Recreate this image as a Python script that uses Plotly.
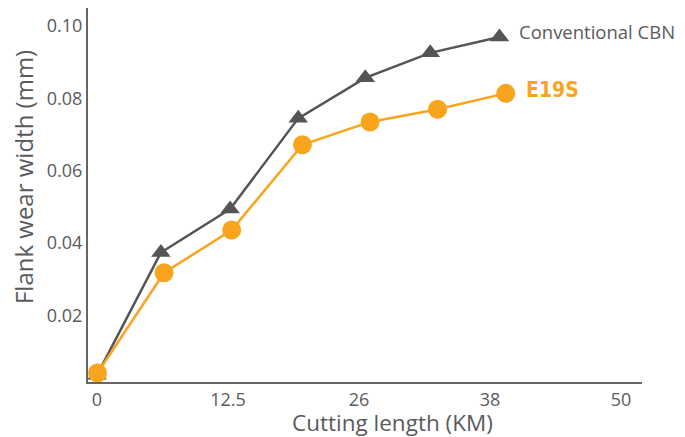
import plotly.graph_objects as go

# Data (x in evenly spaced axis units; tick labels below are as printed)
x_conv = [0, 6.1, 12.7, 19.2, 25.6, 31.8, 38.4]
y_conv = [0.0035, 0.0374, 0.0494, 0.0745, 0.0857, 0.0926, 0.0970]
x_e19s = [0.05, 6.4, 12.85, 19.6, 26.05, 32.5, 39.0]
y_e19s = [0.0041, 0.0318, 0.0436, 0.0672, 0.0735, 0.0770, 0.0814]

x_tickvals = [0, 12.5, 25, 37.5, 50]
x_ticktext = ["0", "12.5", "26", "38", "50"]
y_tickvals = [0.02, 0.04, 0.06, 0.08, 0.10]
y_ticktext = ["0.02", "0.04", "0.06", "0.08", "0.10"]

x_title = "Cutting length (KM)"
y_title = "Flank wear width (mm)"

GRAY = "#555555"
TEXT = "#5a5a5c"
ORANGE = "#F8A51D"
FONT = "Open Sans, Lato, sans-serif"

fig = go.Figure()
fig.add_trace(go.Scatter(
    x=x_conv, y=y_conv, mode="lines+markers",
    line=dict(color=GRAY, width=2.5),
    marker=dict(symbol="triangle-up", size=17, color=GRAY),
    showlegend=False, cliponaxis=False))
fig.add_trace(go.Scatter(
    x=x_e19s, y=y_e19s, mode="lines+markers",
    line=dict(color=ORANGE, width=2.5),
    marker=dict(symbol="circle", size=19, color=ORANGE),
    showlegend=False, cliponaxis=False))

fig.add_annotation(x=40.1, y=0.0986, xref="x", yref="y", text="Conventional CBN",
                   showarrow=False, xanchor="left", yanchor="middle",
                   font=dict(family=FONT, size=18.5, color=TEXT))
fig.add_annotation(x=40.7, y=0.0823, xref="x", yref="y", text="<b>E19S</b>",
                   showarrow=False, xanchor="left", yanchor="middle",
                   font=dict(family="Liberation Sans Narrow, DejaVu Sans Condensed, sans-serif",
                             size=21, color=ORANGE))

# axis titles as annotations (the reference places them off-centre)
fig.add_annotation(x=0.5496, y=-0.1083, xref="paper", yref="paper", text=x_title,
                   showarrow=False, xanchor="center", yanchor="middle",
                   font=dict(family=FONT, size=22.5, color=TEXT))
fig.add_annotation(x=-0.1173, y=0.548, xref="paper", yref="paper", text=y_title,
                   showarrow=False, xanchor="center", yanchor="middle", textangle=-90,
                   font=dict(family=FONT, size=24, color=TEXT))

# the page body has an 8px margin; compensate so the plot lands where the reference has it
fig.update_layout(
    width=677, height=429,
    margin=dict(l=80, r=43, t=0, b=55),
    paper_bgcolor="white", plot_bgcolor="white",
    font=dict(family=FONT, color=TEXT),
    xaxis=dict(range=[-0.86, 52.0], tickvals=x_tickvals, ticktext=x_ticktext,
               showgrid=False, zeroline=False, showline=True, linecolor="#666666",
               linewidth=2, ticks="", tickfont=dict(size=18, color=TEXT), automargin=False),
    yaxis=dict(range=[0.0016, 0.105], tickvals=y_tickvals, ticktext=y_ticktext,
               showgrid=False, zeroline=False, showline=True, linecolor="#666666",
               linewidth=2, ticks="", tickfont=dict(size=18, color=TEXT), automargin=False),
)

fig.write_html("out.html")
